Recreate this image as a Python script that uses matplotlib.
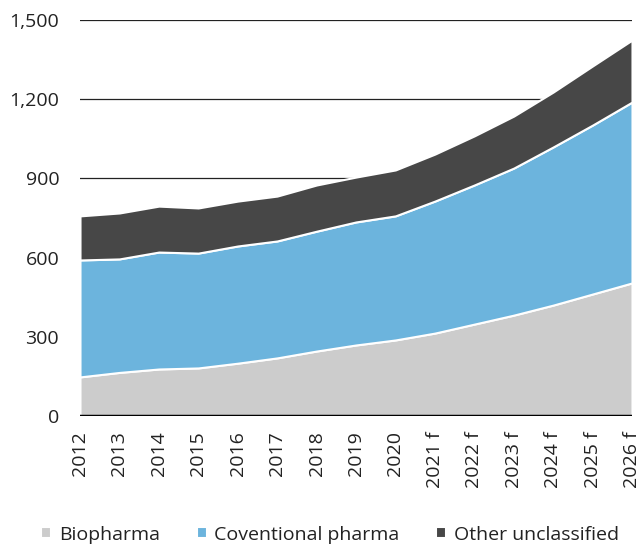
import numpy as np
import matplotlib.pyplot as plt
from matplotlib.ticker import FuncFormatter

plt.rcParams['font.family'] = ['Open Sans', 'DejaVu Sans']

years = ['2012', '2013', '2014', '2015', '2016', '2017', '2018', '2019', '2020',
         '2021 f', '2022 f', '2023 f', '2024 f', '2025 f', '2026 f']
biopharma = [148, 165, 178, 182, 200, 220, 246, 269, 288, 314, 348, 382, 420, 462, 504]
conventional = [443, 430, 443, 435, 444, 443, 454, 466, 470, 500, 527, 557, 599, 640, 685]
other = [167, 174, 174, 171, 170, 170, 175, 170, 174, 178, 186, 197, 208, 224, 235]

colors = ['#cccccc', '#6cb4dd', '#474747']
labels = ['Biopharma', 'Coventional pharma', 'Other unclassified']

fig = plt.figure(figsize=(6.4, 5.48), dpi=100)
ax = fig.add_axes([0.125, 0.2409, 0.8625, 0.7226])

x = np.arange(len(years))
ax.stackplot(x, biopharma, conventional, other, colors=colors, labels=labels,
             edgecolor='white', linewidth=1.5, zorder=2)

ax.set_xlim(0, len(years) - 1)
ax.set_ylim(0, 1500)
ax.set_yticks([0, 300, 600, 900, 1200, 1500])
ax.yaxis.set_major_formatter(FuncFormatter(lambda v, p: f'{int(v):,}'))
ax.grid(True, axis='y', color='#222222', linewidth=0.9, zorder=1)
ax.set_axisbelow(True)
ax.axhline(0, color='black', linewidth=2.5, zorder=3)

ax.set_xticks(x)
ax.set_xticklabels(years, rotation=90, fontsize=14, color='#222222')
ax.tick_params(axis='y', labelsize=14, colors='#222222', length=0, pad=15)
ax.tick_params(axis='x', length=0, pad=11)
for s in ax.spines.values():
    s.set_visible(False)

handles, lbls = ax.get_legend_handles_labels()
fig.legend(handles, lbls, loc='center', bbox_to_anchor=(0.516, 0.024), ncol=3,
           frameon=False, fontsize=14, handlelength=0.5, handleheight=0.5,
           handletextpad=0.4, columnspacing=1.9, labelcolor='#222222')

fig.savefig('out.png', dpi=100)
